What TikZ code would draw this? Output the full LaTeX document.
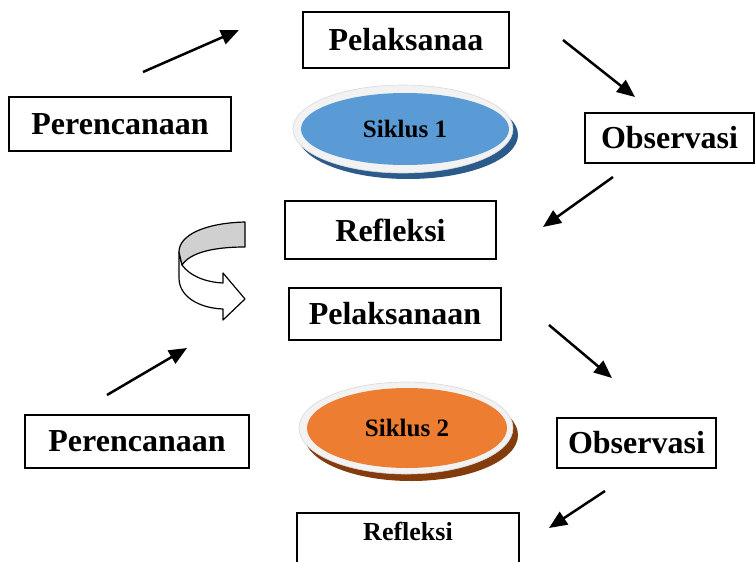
\documentclass[tikz,border=0pt]{standalone}
\usepackage{fontspec}
\setmainfont{Liberation Serif}
\usetikzlibrary{arrows.meta,shapes.geometric}
\definecolor{sblue}{HTML}{5B9BD5}
\definecolor{sblueshadow}{HTML}{2B5B8B}
\definecolor{sorange}{HTML}{ED7D31}
\definecolor{sorangeshadow}{HTML}{843C0C}
\definecolor{rim}{HTML}{F2F2F2}
\definecolor{rimedge}{HTML}{D9D9D9}
\definecolor{bandgray}{HTML}{D0D0D0}
\tikzset{
  box/.style={draw, line width=1.6pt, rectangle, inner sep=0pt,
    font=\bfseries\fontsize{32}{38}\selectfont},
  smallbox/.style={font=\bfseries\fontsize{26}{30}\selectfont, inner sep=0pt},
  arr/.style={line width=2.5pt, -{Triangle[length=18pt,width=15pt]}},
  shadowell/.style={ellipse, inner sep=0pt},
  rimell/.style={ellipse, inner sep=0pt, fill=rim, draw=rimedge, line width=0.6pt},
  coreell/.style={ellipse, inner sep=0pt, font=\bfseries\fontsize{25}{30}\selectfont},
  uturn/.style={draw=black, line width=1.2pt, line join=round},
}
\begin{document}
\begin{tikzpicture}[x=1pt,y=-1pt]
\clip (0,0) rectangle (755,562);
\fill[white] (0,0) rectangle (755,562);

% ---- Cycle 1 ----
\node[box, minimum width=206pt, minimum height=56pt] (pel1) at (406,40) {Pelaksanaa};
\node[box, minimum width=222pt, minimum height=54pt] (per1) at (120,124) {Perencanaan};
\node[box, minimum width=169pt, minimum height=50pt] (obs1) at (669.5,138) {Observasi};
\node[box, minimum width=211pt, minimum height=58pt] (ref1) at (390.5,230) {Refleksi};

\node[shadowell, fill=sblueshadow, minimum width=220pt, minimum height=88pt] (s1sh) at (408,135) {};
\node[rimell, minimum width=220pt, minimum height=88pt] (s1rim) at (403,129) {};
\node[coreell, fill=sblue, minimum width=208pt, minimum height=72pt] (s1) at (405,129) {Siklus 1};

% ---- Cycle 2 ----
\node[box, minimum width=212pt, minimum height=52pt] (pel2) at (395,314) {Pelaksanaan};
\node[box, minimum width=224pt, minimum height=53pt] (per2) at (137,441.5) {Perencanaan};
\node[box, minimum width=159pt, minimum height=50pt] (obs2) at (636.5,443) {Observasi};
\draw[line width=1.6pt] (297,580) -- (297,513) -- (519,513) -- (519,580);
\node[smallbox] (ref2) at (408,531) {Refleksi};

\node[shadowell, fill=sorangeshadow, minimum width=214pt, minimum height=92pt] (s2sh) at (411,435) {};
\node[rimell, minimum width=214pt, minimum height=92pt] (s2rim) at (406,428) {};
\node[coreell, fill=sorange, minimum width=200pt, minimum height=80pt] (s2) at (407,428) {Siklus 2};

% ---- curved U-turn arrow ----
\filldraw[uturn, fill=white]
  (182,265) .. controls (190,276) and (205,282) .. (223,283)
  -- (223,273) -- (245,299) -- (223,320) -- (223,309)
  .. controls (198,308) and (179,296) .. (179,278) -- (179,252) -- cycle;
\filldraw[uturn, fill=bandgray]
  (245,222) .. controls (205,223) and (179,235) .. (179,252)
  -- (182,265) .. controls (190,253) and (212,247) .. (245,247) -- cycle;

% ---- arrows ----
\coordinate (a1s) at (143,72);  \coordinate (a1e) at (239,30);
\coordinate (a2s) at (563,40);  \coordinate (a2e) at (635,97);
\coordinate (a3s) at (613,177); \coordinate (a3e) at (543,227);
\coordinate (a4s) at (107,395); \coordinate (a4e) at (187,348);
\coordinate (a5s) at (549,325); \coordinate (a5e) at (612,378);
\coordinate (a6s) at (605,491); \coordinate (a6e) at (549,528);
\draw[arr] (a1s) -- (a1e);
\draw[arr] (a2s) -- (a2e);
\draw[arr] (a3s) -- (a3e);
\draw[arr] (a4s) -- (a4e);
\draw[arr] (a5s) -- (a5e);
\draw[arr] (a6s) -- (a6e);
\end{tikzpicture}
\end{document}
